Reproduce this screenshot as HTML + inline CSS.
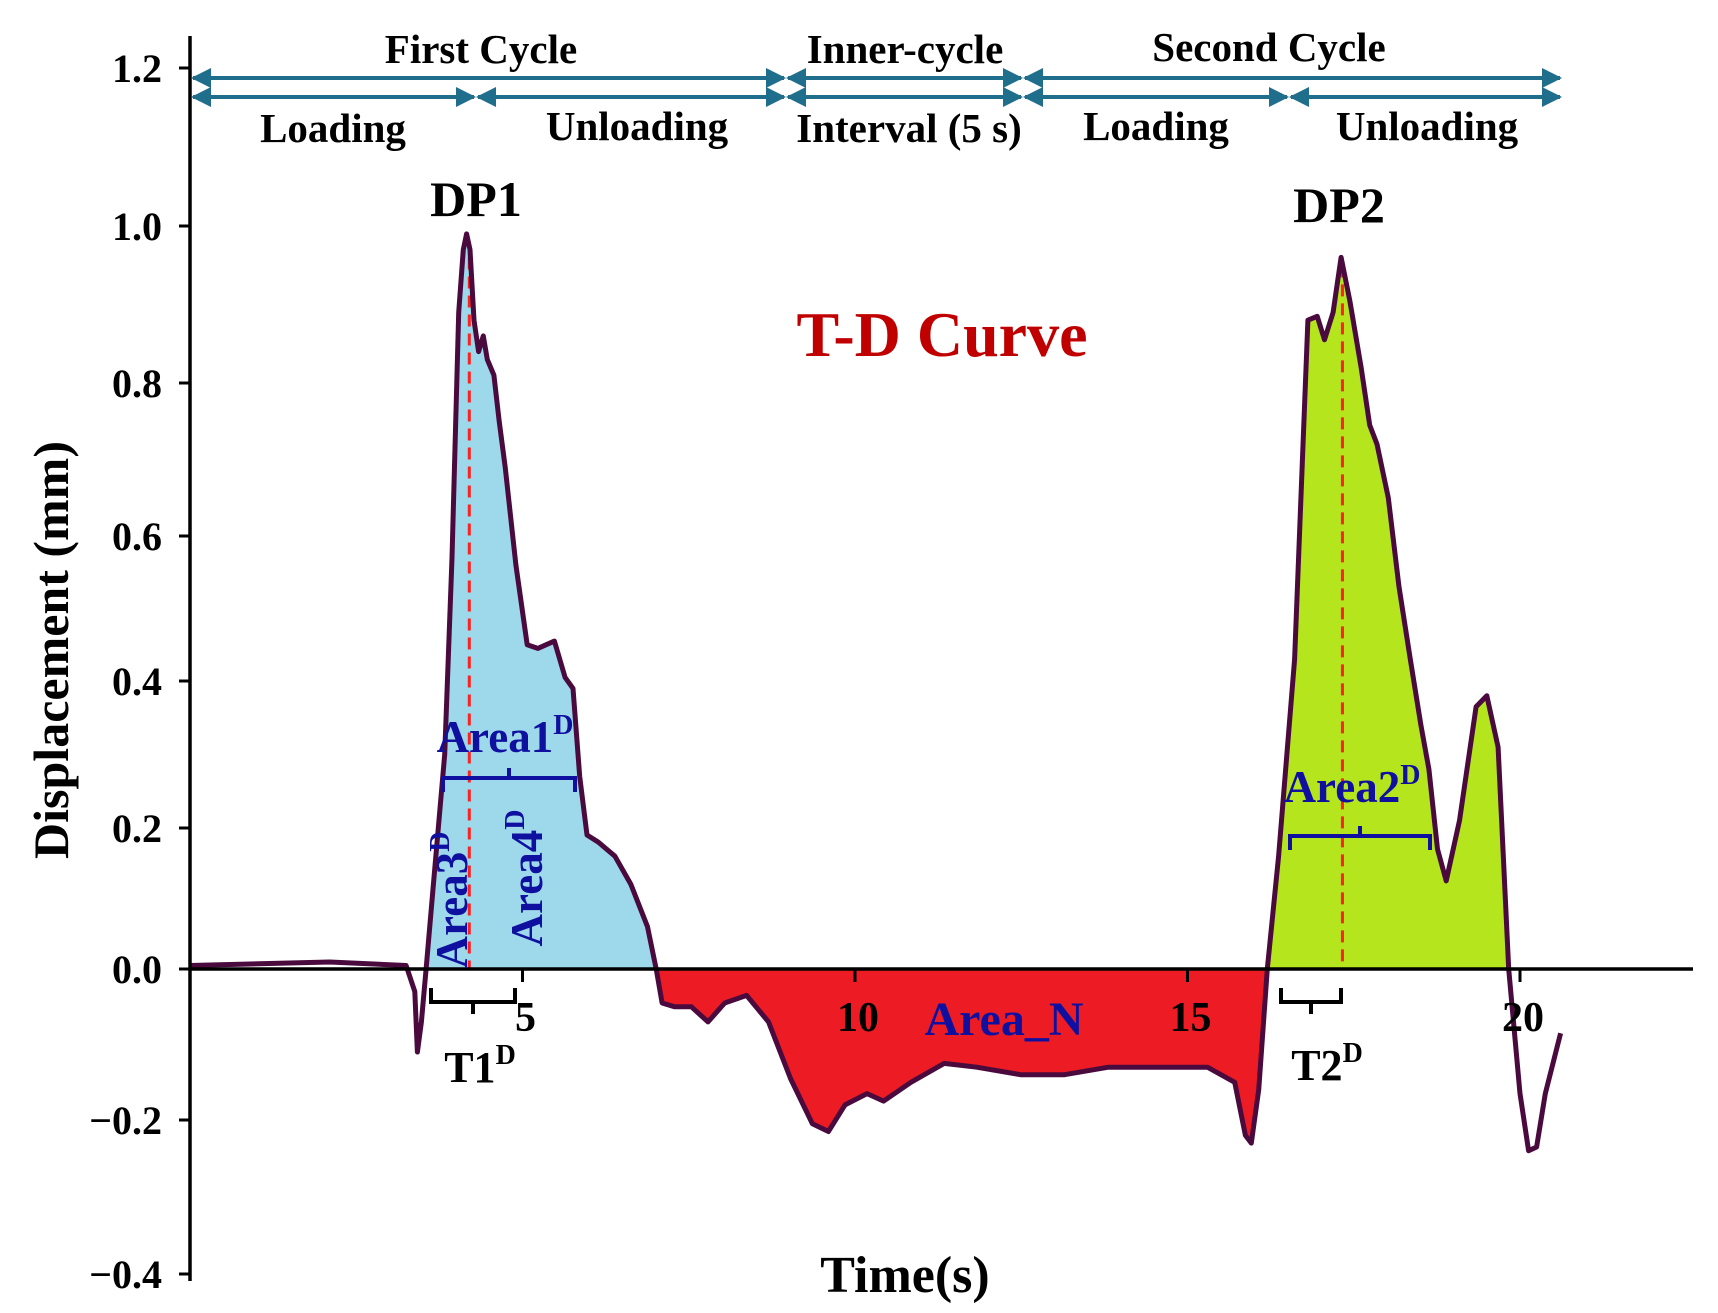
<!DOCTYPE html>
<html><head><meta charset="utf-8"><style>
html,body{margin:0;padding:0;background:#fff;}
svg{display:block;font-family:"Liberation Serif",serif;font-weight:bold;}
</style></head><body>
<svg id="chart" width="1718" height="1313" viewBox="0 0 1718 1313" xmlns="http://www.w3.org/2000/svg">
<defs></defs>
<g id="fills"></g>
<g id="marks"></g>
<g id="axes"></g>
</svg>
<script>
const times = [0,2.1,3.25,3.38,3.42,3.48,3.55,3.66,3.83,3.94,4.04,4.11,4.16,4.21,4.27,4.34,4.41,4.47,4.57,4.65,4.74,4.9,5.07,5.23,5.48,5.64,5.76,5.86,5.97,6.14,6.39,6.63,6.88,7.01,7.1,7.29,7.54,7.79,8.04,8.37,8.7,9.03,9.36,9.6,9.85,10.18,10.43,10.84,11.34,11.83,12.49,13.15,13.81,14.64,15.3,15.71,15.87,15.96,16.07,16.2,16.37,16.61,16.81,16.95,17.06,17.19,17.31,17.44,17.61,17.74,17.85,18.02,18.18,18.35,18.51,18.63,18.76,18.89,19.09,19.34,19.5,19.67,19.83,20.0,20.13,20.25,20.38,20.61];
const disp = [0.005,0.01,0.005,-0.03,-0.11,-0.07,0,0.12,0.3,0.57,0.89,0.97,0.99,0.97,0.88,0.84,0.86,0.83,0.81,0.75,0.69,0.56,0.45,0.445,0.455,0.405,0.39,0.27,0.19,0.18,0.16,0.12,0.06,0,-0.045,-0.05,-0.05,-0.07,-0.045,-0.035,-0.07,-0.145,-0.205,-0.215,-0.18,-0.165,-0.175,-0.15,-0.125,-0.13,-0.14,-0.14,-0.13,-0.13,-0.13,-0.15,-0.22,-0.23,-0.16,0,0.16,0.43,0.88,0.885,0.855,0.89,0.96,0.905,0.82,0.745,0.72,0.65,0.53,0.43,0.34,0.28,0.17,0.125,0.21,0.365,0.38,0.31,0,-0.165,-0.24,-0.235,-0.165,-0.085];
const yTicks = [1.2,1.0,0.8,0.6,0.4,0.2,0.0,-0.2,-0.4];
const yTickLabels = ["1.2","1.0","0.8","0.6","0.4","0.2","0.0","\u22120.2","\u22120.4"];
const xTicks = [5,10,15,20];
const xTickLabels = ["5","10","15","20"];
const peakTimes = [4.2,17.33];
const regions = [[3.55,7.01,"#9dd9ea","pos"],[7.01,16.2,"#ed1c24","neg"],[16.2,19.83,"#b5e61d","pos"]];

const yPix = [68,226,383,536,681,828,969,1120,1274];
function X(t){return 190 + t*66.5;}
function Y(v){
  for(let i=0;i<yTicks.length-1;i++){
    const a=yTicks[i],b=yTicks[i+1];
    if(v<=a && v>=b) return yPix[i]+(a-v)/(a-b)*(yPix[i+1]-yPix[i]);
  }
  return v>yTicks[0]? yPix[0]-(v-yTicks[0])/0.2*(yPix[1]-yPix[0]) : yPix[8]+(yTicks[8]-v)/0.2*(yPix[8]-yPix[7]);
}
const NS="http://www.w3.org/2000/svg";
function mk(tag,attrs,parent){const e=document.createElementNS(NS,tag);for(const k in attrs)e.setAttribute(k,attrs[k]);parent.appendChild(e);return e;}
const fills=document.getElementById('fills'),marks=document.getElementById('marks'),axes=document.getElementById('axes');
const y0=Y(0);
let pts=times.map((t,i)=>X(t).toFixed(1)+","+Y(disp[i]).toFixed(1));
const defs=document.querySelector('defs');
regions.forEach((r,i)=>{
  const cp=mk('clipPath',{id:'cp'+i},defs);
  const yTop=r[3]==="pos"?0:y0, yBot=r[3]==="pos"?y0:1313;
  mk('rect',{x:X(r[0]),y:yTop,width:X(r[1])-X(r[0]),height:yBot-yTop},cp);
  const poly=mk('polygon',{points:X(times[0])+","+y0+" "+pts.join(" ")+" "+X(times[times.length-1])+","+y0,fill:r[2],'clip-path':'url(#cp'+i+')'},fills);
  
  
});
peakTimes.forEach((t,i)=>{
  let best=0;times.forEach((tt,j)=>{if(Math.abs(tt-t)<Math.abs(times[best]-t))best=j;});
  const l=mk('line',{x1:X(t),x2:X(t),y1:Y(disp[best])+8,y2:y0,stroke:"#ff2020","stroke-width":3,"stroke-dasharray":"12,7"},marks);
  
  
});
const xa=mk('line',{x1:189,x2:1693,y1:y0,y2:y0,stroke:"#000","stroke-width":3.5},axes);


const ya=mk('line',{x1:190,x2:190,y1:36,y2:1281,stroke:"#000","stroke-width":3.5},axes);


yTicks.forEach((v,i)=>{
  mk('line',{x1:179,x2:190,y1:Y(v),y2:Y(v),stroke:"#000","stroke-width":3},axes);
  const t=mk('text',{x:162,y:Y(v)+14,"text-anchor":"end","font-size":40},axes);t.textContent=yTickLabels[i];
  
  
});
xTicks.forEach((v,i)=>{
  mk('line',{x1:X(v),x2:X(v),y1:y0,y2:y0+13,stroke:"#000","stroke-width":3},axes);
  const t=mk('text',{x:X(v)+3,y:y0+62,"text-anchor":"middle","font-size":42},axes);t.textContent=xTickLabels[i];
  
  
});
const line=mk('polyline',{points:pts.join(" "),fill:"none",stroke:"#4a0a3e","stroke-width":5,"stroke-linejoin":"round"},marks);


</script>
<svg style="position:absolute;left:0;top:0" width="1718" height="1313" viewBox="0 0 1718 1313">
<defs><marker id="ah2" viewBox="0 0 10 10" refX="9" refY="5" markerWidth="5" markerHeight="5" orient="auto-start-reverse"><path d="M0,0 L10,5 L0,10 z" fill="#1f6e8c"/></marker></defs>
<g stroke="#1f6e8c" stroke-width="4" marker-start="url(#ah2)" marker-end="url(#ah2)">
<line x1="193" y1="78" x2="784" y2="78"/><line x1="788" y1="78" x2="1021" y2="78"/><line x1="1025" y1="78" x2="1560" y2="78"/>
<line x1="193" y1="97" x2="474" y2="97"/><line x1="478" y1="97" x2="784" y2="97"/><line x1="788" y1="97" x2="1021" y2="97"/><line x1="1025" y1="97" x2="1287" y2="97"/><line x1="1291" y1="97" x2="1560" y2="97"/>
</g>
<g font-family="Liberation Serif,serif" font-weight="bold" font-size="41" text-anchor="middle">
<text x="481" y="63">First Cycle</text>
<text x="905" y="63">Inner-cycle</text>
<text x="1269" y="61">Second Cycle</text>
<text x="333" y="142">Loading</text>
<text x="637" y="140">Unloading</text>
<text x="909" y="142">Interval (5 s)</text>
<text x="1156" y="140">Loading</text>
<text x="1427" y="140">Unloading</text>
<text x="476" y="216" font-size="50">DP1</text>
<text x="1339" y="222" font-size="50">DP2</text>
<text x="942" y="356" font-size="64" fill="#c00000">T-D Curve</text>
<text x="905" y="1292" font-size="52">Time(s)</text>
<text transform="translate(68,650) rotate(-90)" font-size="50">Displacement (mm)</text>
<text x="1004" y="1035" font-size="48" fill="#1010a0">Area_N</text>
<text x="505" y="752" font-size="45" fill="#1010a0">Area1<tspan font-size="28" dy="-18">D</tspan></text>
<text x="1352" y="802" font-size="45" fill="#1010a0">Area2<tspan font-size="28" dy="-18">D</tspan></text>
<text transform="translate(467,900) rotate(-90)" text-anchor="middle" font-size="45" fill="#1010a0">Area3<tspan font-size="28" dy="-18">D</tspan></text>
<text transform="translate(542,878) rotate(-90)" text-anchor="middle" font-size="45" fill="#1010a0">Area4<tspan font-size="28" dy="-18">D</tspan></text>
<text x="480" y="1082" font-size="44">T1<tspan font-size="28" dy="-18">D</tspan></text>
<text x="1327" y="1080" font-size="44">T2<tspan font-size="28" dy="-18">D</tspan></text>
</g>
<g fill="none" stroke-width="4">
<path d="M443,792 v-14 h66 v-10 v10 h66 v14" stroke="#1010a0"/>
<path d="M1290,850 v-14 h70 v-10 v10 h70 v14" stroke="#1010a0"/>
<path d="M431,988 v14 h42 v12 v-12 h42 v-14" stroke="#000"/>
<path d="M1281,988 v14 h30 v12 v-12 h30 v-14" stroke="#000"/>
</g>
</svg>
</body></html>
